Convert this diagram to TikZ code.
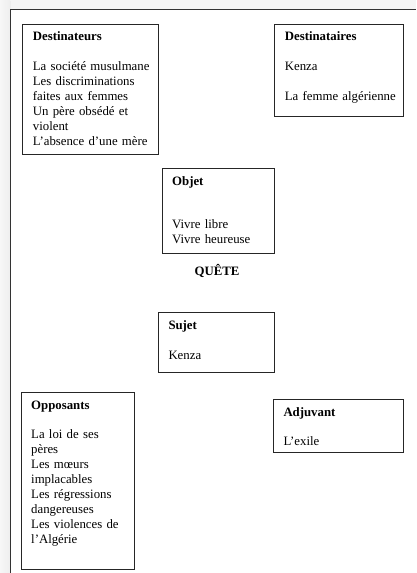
\documentclass[tikz,border=0pt]{standalone}
\usepackage{fontspec}
\setmainfont{Liberation Serif}
\begin{document}
\begin{tikzpicture}[x=1pt, y=-1pt,
  cadre/.style={draw=black!85, line width=1pt, anchor=north west, inner sep=0pt},
  texte/.style={anchor=base west, inner sep=0pt, text width=125pt, align=left,
    font=\fontsize{12.8}{14.9}\selectfont}
]
\useasboundingbox (0,0) rectangle (416,573);
\shade[left color=gray!6, right color=gray!14] (0,0) rectangle (10.5,573);
\fill[gray!8] (10.5,0) rectangle (416,9.5);
\fill[white] (10.5,9.5) rectangle (416,573);
\draw[line width=1.2pt, black!80] (10.5,573) |- (416,9.5);

\node[cadre, minimum width=136pt, minimum height=130pt] (dest)  at (22,24)  {};
\node[cadre, minimum width=129pt, minimum height=92pt]  (desti) at (274,24) {};
\node[cadre, minimum width=112pt, minimum height=85pt]  (objet) at (162,168) {};
\node[cadre, minimum width=116pt, minimum height=60pt]  (sujet) at (158,312) {};
\node[cadre, minimum width=113pt, minimum height=177pt] (opp)   at (21,392) {};
\node[cadre, minimum width=130pt, minimum height=53pt]  (adj)   at (273,399) {};

\node[texte] (tdest) at ([shift={(10.7,16.7)}]dest.north west)
  {\textbf{Destinateurs}\\[14.9pt] La société musulmane\\ Les discriminations\\ faites aux femmes\\ Un père obsédé et\\ violent\\ L’absence d’une mère};
\node[texte] (tdesti) at ([shift={(10.7,16.5)}]desti.north west)
  {\textbf{Destinataires}\\[14.9pt] Kenza\\[14.9pt] La femme algérienne};
\node[texte] (tobjet) at ([shift={(10,17)}]objet.north west)
  {\textbf{Objet}\\[29pt] Vivre libre\\ Vivre heureuse};
\node[texte] (tsujet) at ([shift={(10.3,17.5)}]sujet.north west)
  {\textbf{Sujet}\\[14.9pt] Kenza};
\node[texte] (topp) at ([shift={(10,17)}]opp.north west)
  {\textbf{Opposants}\\[14.9pt] La loi de ses\\ pères\\ Les mœurs\\ implacables\\ Les régressions\\ dangereuses\\ Les violences de\\ l’Algérie};
\node[texte] (tadj) at ([shift={(10.3,17)}]adj.north west)
  {\textbf{Adjuvant}\\[14.9pt] L’exile};

\node[anchor=base, inner sep=0pt, font=\fontsize{12.8}{14.9}\selectfont\bfseries] (quete) at (217,275) {QUÊTE};
\end{tikzpicture}
\end{document}
